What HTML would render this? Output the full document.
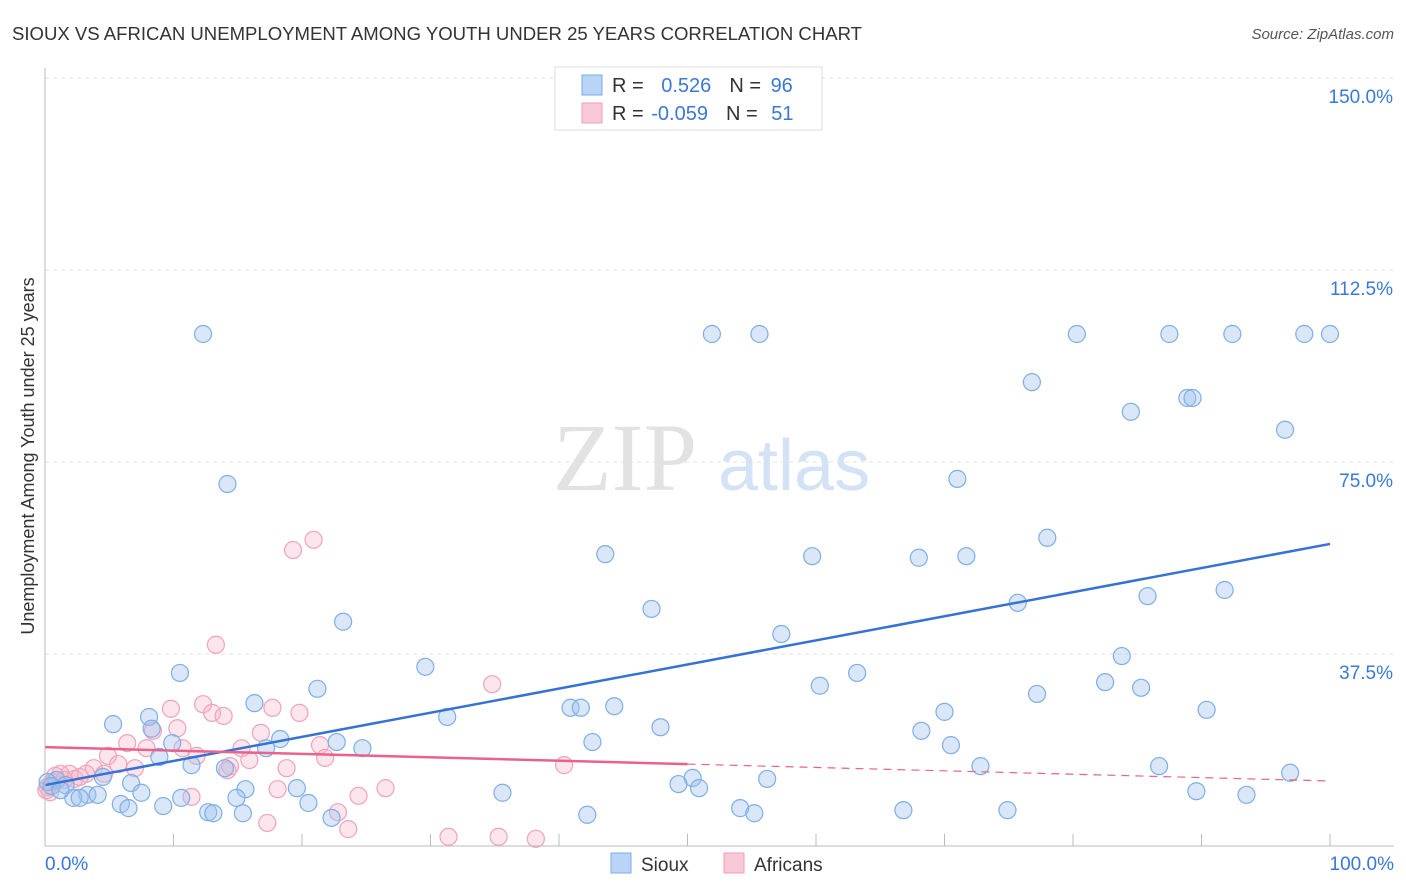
<!DOCTYPE html>
<html><head><meta charset="utf-8"><style>
body{margin:0;background:#fff;font-family:"Liberation Sans",sans-serif}
svg{display:block}
</style></head><body>
<svg id="chart" width="1406" height="892" xmlns="http://www.w3.org/2000/svg">
<text x="12" y="40" font-size="18" fill="#333" textLength="850" lengthAdjust="spacingAndGlyphs">SIOUX VS AFRICAN UNEMPLOYMENT AMONG YOUTH UNDER 25 YEARS CORRELATION CHART</text>
<text x="1394" y="39" font-size="15" fill="#555" font-style="italic" text-anchor="end">Source: ZipAtlas.com</text>
<g id="grid"></g>
<g><text x="553" y="490" font-size="96" fill="#e2e2e2" font-family="Liberation Serif,serif">ZIP</text><text x="718" y="490" font-size="72" fill="#d3e2f4">atlas</text></g>
<g id="pts"></g>
<g id="trends"></g>
<text transform="translate(34,456) rotate(-90)" font-size="18" fill="#333" text-anchor="middle">Unemployment Among Youth under 25 years</text>
<g id="axes"></g>
<g>
<rect x="555" y="67" width="267" height="63" fill="#fff" stroke="#ddd"/>
<rect x="582" y="75" width="20" height="20" fill="#b8d4f6" stroke="#7fabe6"/>
<rect x="582" y="103" width="20" height="20" fill="#f9c9d7" stroke="#ef9fb8"/>
<text x="612" y="92" font-size="20" fill="#333">R = <tspan fill="#3a78d8" dx="12">0.526</tspan><tspan dx="18" fill="#333">N = </tspan><tspan fill="#3a78d8" dx="4">96</tspan></text>
<text x="612" y="120" font-size="20" fill="#333">R = <tspan fill="#3a78d8" dx="2">-0.059</tspan><tspan dx="18" fill="#333">N = </tspan><tspan fill="#3a78d8" dx="8">51</tspan></text>
</g>
<g>
<rect x="611" y="853" width="20" height="20" fill="#b8d4f6" stroke="#7fabe6"/>
<text x="641" y="871" font-size="19" fill="#333">Sioux</text>
<rect x="724" y="853" width="20" height="20" fill="#f9c9d7" stroke="#ef9fb8"/>
<text x="754" y="871" font-size="19" fill="#333">Africans</text>
</g>
</svg>
<script>
const yTicks=[37.5,75,112.5,150];
const yTickLabels=["37.5%","75.0%","112.5%","150.0%"];
const siouxX=[12.3,14.2,51.9,55.6,80.3,87.5,92.4,98.0,100,76.8,84.5,88.9,89.3,96.5,71.0,78.0,43.6,59.7,68.0,71.7,75.7,85.8,91.8,47.2,23.2,57.3,83.8,29.6,10.5,63.2,60.3,82.5,85.3,77.2,21.2,16.3,40.9,41.7,44.3,70.0,90.4,31.3,8.1,5.3,47.9,68.2,8.3,18.3,22.7,17.2,42.6,9.9,70.5,24.7,8.9,11.4,14.0,72.8,86.7,96.9,50.4,56.2,49.3,50.9,6.7,0.9,1.6,4.5,15.6,19.6,89.6,35.6,7.5,10.6,14.9,3.3,4.1,2.2,2.7,93.5,5.9,6.5,9.2,54.1,20.5,12.7,13.1,15.4,55.2,66.8,74.9,42.2,22.3,0.2,0.5,1.2];
const siouxY=[100,70.7,100,100,100,100,100,100,100,90.6,84.8,87.5,87.5,81.3,71.7,60.2,57.0,56.6,56.3,56.6,47.5,48.8,50.0,46.3,43.8,41.4,37.1,35.0,33.8,33.8,31.3,32.0,30.9,29.7,30.7,27.9,27.0,27.0,27.3,26.2,26.6,25.2,25.2,23.8,23.2,22.5,22.9,20.9,20.3,19.1,20.3,20.1,19.7,19.1,17.4,15.8,15.2,15.6,15.6,14.3,13.3,13.1,12.1,11.3,12.3,12.9,11.9,13.5,11.1,11.3,10.7,10.4,10.4,9.4,9.4,10.0,10.0,9.4,9.4,10.0,8.2,7.4,7.8,7.4,8.4,6.6,6.4,6.4,6.4,7.0,7.0,6.1,5.5,12.5,11.7,10.9];
const afrX=[19.3,20.9,13.3,34.8,9.8,12.3,17.7,13.0,13.9,19.8,10.3,8.4,16.8,6.4,7.9,21.4,15.3,10.7,11.8,4.9,5.7,7.0,3.8,14.4,15.9,18.8,21.8,40.4,14.2,4.6,3.2,1.9,1.2,2.3,0.6,0.2,0.4,18.1,26.5,24.4,11.4,22.8,17.3,23.6,31.4,35.3,38.2,0.8,2.7,1.5,0.1];
const afrY=[57.8,59.8,39.3,31.6,26.8,27.7,27.0,26.0,25.4,26.0,23.0,22.5,22.1,20.1,19.1,19.7,19.1,19.1,17.6,17.6,16.0,15.2,15.2,15.6,16.8,15.2,17.2,15.8,14.8,14.1,14.1,14.1,14.1,13.1,12.5,11.5,10.5,11.1,11.3,9.8,9.6,6.6,4.5,3.3,1.8,1.8,1.4,13.7,13.5,12.9,10.9];
const siouxTrend=[11.9,59.0];
const afrTrend=[19.3,12.7];
const afrSolidEnd=50;
const NS="http://www.w3.org/2000/svg";
const X=v=>45+v*12.85, Y=v=>846-v*5.12;
function mk(tag,at,parent){const e=document.createElementNS(NS,tag);for(const k in at)e.setAttribute(k,at[k]);parent.appendChild(e);return e;}
const grid=document.getElementById('grid'),axes=document.getElementById('axes'),pts=document.getElementById('pts'),tr=document.getElementById('trends');
yTicks.forEach((t,i)=>{
 const l=mk('line',{x1:45,x2:1394,y1:Y(t),y2:Y(t),stroke:'#e2e2e2','stroke-dasharray':'4,4'},grid);
 
 
 const tx=mk('text',{x:1393,y:Y(t)+25,'font-size':19,fill:'#3a78d8','text-anchor':'end'},axes);
 tx.textContent=yTickLabels[i];
 
 
});
mk('line',{x1:45,x2:45,y1:68,y2:846,stroke:'#bbb'},axes);
mk('line',{x1:45,x2:1394,y1:846,y2:846,stroke:'#bbb'},axes);
for(let i=0;i<=10;i++){const t=mk('line',{x1:X(i*10),x2:X(i*10),y1:846,y2:834,stroke:'#bbb'},axes);}
const x0=mk('text',{x:45,y:870,'font-size':19,fill:'#3a78d8'},axes);x0.textContent='0.0%';
const x1=mk('text',{x:1394,y:870,'font-size':19,fill:'#3a78d8','text-anchor':'end'},axes);x1.textContent='100.0%';
afrX.forEach((v,i)=>{const c=mk('circle',{cx:X(v),cy:Y(afrY[i]),r:8.5,fill:'rgba(246,180,200,0.35)',stroke:'#f0a3bb','stroke-width':1.2},pts);});
siouxX.forEach((v,i)=>{const c=mk('circle',{cx:X(v),cy:Y(siouxY[i]),r:8.5,fill:'rgba(160,196,240,0.4)',stroke:'#7faee6','stroke-width':1.2},pts);});
const b=mk('line',{x1:X(0),y1:Y(siouxTrend[0]),x2:X(100),y2:Y(siouxTrend[1]),stroke:'#3672d6','stroke-width':2.5},tr);
const am=afrTrend[0]+(afrTrend[1]-afrTrend[0])*afrSolidEnd/100;
const p1=mk('line',{x1:X(0),y1:Y(afrTrend[0]),x2:X(afrSolidEnd),y2:Y(am),stroke:'#e8628e','stroke-width':2.5},tr);
const p2=mk('line',{x1:X(afrSolidEnd),y1:Y(am),x2:X(100),y2:Y(afrTrend[1]),stroke:'#e8628e','stroke-width':1.2,'stroke-dasharray':'8,6'},tr);
</script>
</body></html>
